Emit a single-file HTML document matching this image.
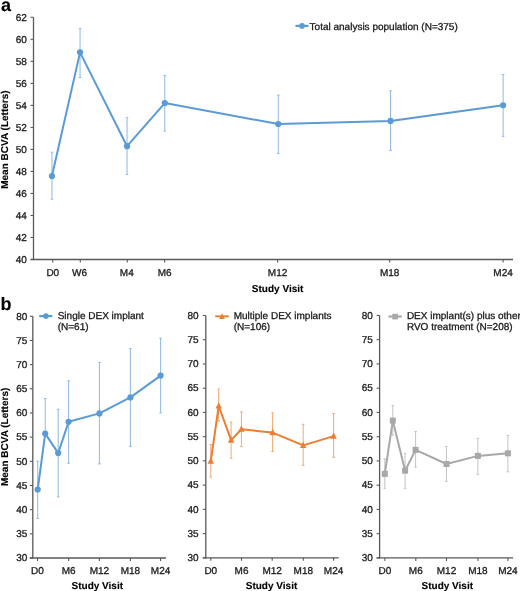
<!DOCTYPE html>
<html><head><meta charset="utf-8"><title>Mean BCVA chart</title>
<style>html,body{margin:0;padding:0;background:#fff;width:520px;height:591px;overflow:hidden;}svg{display:block;will-change:transform;text-rendering:geometricPrecision;font-family:"Liberation Sans",sans-serif;}text{stroke:#1a1a1a;stroke-width:0.3px;}text[font-weight=bold]{stroke:#000;fill:#000;stroke-width:0.12px;}</style>
</head><body>
<svg width="520" height="591" viewBox="0 0 520 591" font-family="Liberation Sans, sans-serif">
<rect width="520" height="591" fill="#ffffff"/>
<text x="1" y="10.6" font-size="18" text-anchor="start" font-weight="bold" fill="#000" >a</text>
<text x="0.5" y="309.5" font-size="18" text-anchor="start" font-weight="bold" fill="#000" >b</text>
<line x1="33.5" y1="17.3" x2="33.5" y2="260.1" stroke="#595959" stroke-width="1.3" />
<line x1="30.5" y1="259.5" x2="513" y2="259.5" stroke="#595959" stroke-width="1.3" />
<line x1="30.5" y1="259.5" x2="33.5" y2="259.5" stroke="#595959" stroke-width="1.1" />
<text x="26.8" y="262.7" font-size="10" text-anchor="end" font-weight="normal" fill="#1a1a1a" >40</text>
<line x1="30.5" y1="237.48" x2="33.5" y2="237.48" stroke="#595959" stroke-width="1.1" />
<text x="26.8" y="240.68" font-size="10" text-anchor="end" font-weight="normal" fill="#1a1a1a" >42</text>
<line x1="30.5" y1="215.46" x2="33.5" y2="215.46" stroke="#595959" stroke-width="1.1" />
<text x="26.8" y="218.66" font-size="10" text-anchor="end" font-weight="normal" fill="#1a1a1a" >44</text>
<line x1="30.5" y1="193.45" x2="33.5" y2="193.45" stroke="#595959" stroke-width="1.1" />
<text x="26.8" y="196.65" font-size="10" text-anchor="end" font-weight="normal" fill="#1a1a1a" >46</text>
<line x1="30.5" y1="171.43" x2="33.5" y2="171.43" stroke="#595959" stroke-width="1.1" />
<text x="26.8" y="174.63" font-size="10" text-anchor="end" font-weight="normal" fill="#1a1a1a" >48</text>
<line x1="30.5" y1="149.41" x2="33.5" y2="149.41" stroke="#595959" stroke-width="1.1" />
<text x="26.8" y="152.61" font-size="10" text-anchor="end" font-weight="normal" fill="#1a1a1a" >50</text>
<line x1="30.5" y1="127.39" x2="33.5" y2="127.39" stroke="#595959" stroke-width="1.1" />
<text x="26.8" y="130.59" font-size="10" text-anchor="end" font-weight="normal" fill="#1a1a1a" >52</text>
<line x1="30.5" y1="105.37" x2="33.5" y2="105.37" stroke="#595959" stroke-width="1.1" />
<text x="26.8" y="108.57" font-size="10" text-anchor="end" font-weight="normal" fill="#1a1a1a" >54</text>
<line x1="30.5" y1="83.35" x2="33.5" y2="83.35" stroke="#595959" stroke-width="1.1" />
<text x="26.8" y="86.55" font-size="10" text-anchor="end" font-weight="normal" fill="#1a1a1a" >56</text>
<line x1="30.5" y1="61.34" x2="33.5" y2="61.34" stroke="#595959" stroke-width="1.1" />
<text x="26.8" y="64.54" font-size="10" text-anchor="end" font-weight="normal" fill="#1a1a1a" >58</text>
<line x1="30.5" y1="39.32" x2="33.5" y2="39.32" stroke="#595959" stroke-width="1.1" />
<text x="26.8" y="42.52" font-size="10" text-anchor="end" font-weight="normal" fill="#1a1a1a" >60</text>
<line x1="30.5" y1="17.3" x2="33.5" y2="17.3" stroke="#595959" stroke-width="1.1" />
<text x="26.8" y="20.5" font-size="10" text-anchor="end" font-weight="normal" fill="#1a1a1a" >62</text>
<line x1="52.8" y1="259.5" x2="52.8" y2="262.5" stroke="#595959" stroke-width="1.1" />
<text x="52.8" y="276.3" font-size="10" text-anchor="middle" font-weight="normal" fill="#1a1a1a" >D0</text>
<line x1="80.3" y1="259.5" x2="80.3" y2="262.5" stroke="#595959" stroke-width="1.1" />
<text x="79.6" y="276.3" font-size="10" text-anchor="middle" font-weight="normal" fill="#1a1a1a" >W6</text>
<line x1="127.2" y1="259.5" x2="127.2" y2="262.5" stroke="#595959" stroke-width="1.1" />
<text x="126.8" y="276.3" font-size="10" text-anchor="middle" font-weight="normal" fill="#1a1a1a" >M4</text>
<line x1="164.6" y1="259.5" x2="164.6" y2="262.5" stroke="#595959" stroke-width="1.1" />
<text x="164.6" y="276.3" font-size="10" text-anchor="middle" font-weight="normal" fill="#1a1a1a" >M6</text>
<line x1="277.6" y1="259.5" x2="277.6" y2="262.5" stroke="#595959" stroke-width="1.1" />
<text x="277.6" y="276.3" font-size="10" text-anchor="middle" font-weight="normal" fill="#1a1a1a" >M12</text>
<line x1="389.7" y1="259.5" x2="389.7" y2="262.5" stroke="#595959" stroke-width="1.1" />
<text x="389.7" y="276.3" font-size="10" text-anchor="middle" font-weight="normal" fill="#1a1a1a" >M18</text>
<line x1="503.1" y1="259.5" x2="503.1" y2="262.5" stroke="#595959" stroke-width="1.1" />
<text x="503.1" y="276.3" font-size="10" text-anchor="middle" font-weight="normal" fill="#1a1a1a" >M24</text>
<text x="277.6" y="292.4" font-size="10" text-anchor="middle" font-weight="bold" fill="#1a1a1a" >Study Visit</text>
<text x="0" y="0" font-size="10" text-anchor="middle" font-weight="bold" fill="#1a1a1a" transform="translate(8.2,139.6) rotate(-90)">Mean BCVA (Letters)</text>
<line x1="51.95" y1="152.2" x2="51.95" y2="176.05" stroke="#8fb9e3" stroke-width="1.0" />
<line x1="50.65" y1="152.2" x2="53.25" y2="152.2" stroke="#8fb9e3" stroke-width="1.0" />
<line x1="51.95" y1="176.05" x2="51.95" y2="199.2" stroke="#8fb9e3" stroke-width="1.0" />
<line x1="50.65" y1="199.2" x2="53.25" y2="199.2" stroke="#8fb9e3" stroke-width="1.0" />
<line x1="80.05" y1="28.3" x2="80.05" y2="52.35" stroke="#8fb9e3" stroke-width="1.0" />
<line x1="78.75" y1="28.3" x2="81.35" y2="28.3" stroke="#8fb9e3" stroke-width="1.0" />
<line x1="80.05" y1="52.35" x2="80.05" y2="77.5" stroke="#8fb9e3" stroke-width="1.0" />
<line x1="78.75" y1="77.5" x2="81.35" y2="77.5" stroke="#8fb9e3" stroke-width="1.0" />
<line x1="127.05" y1="117.7" x2="127.05" y2="146.2" stroke="#8fb9e3" stroke-width="1.0" />
<line x1="125.75" y1="117.7" x2="128.35" y2="117.7" stroke="#8fb9e3" stroke-width="1.0" />
<line x1="127.05" y1="146.2" x2="127.05" y2="174.5" stroke="#8fb9e3" stroke-width="1.0" />
<line x1="125.75" y1="174.5" x2="128.35" y2="174.5" stroke="#8fb9e3" stroke-width="1.0" />
<line x1="164.8" y1="75.4" x2="164.8" y2="103.1" stroke="#8fb9e3" stroke-width="1.0" />
<line x1="163.5" y1="75.4" x2="166.1" y2="75.4" stroke="#8fb9e3" stroke-width="1.0" />
<line x1="164.8" y1="103.1" x2="164.8" y2="131.1" stroke="#8fb9e3" stroke-width="1.0" />
<line x1="163.5" y1="131.1" x2="166.1" y2="131.1" stroke="#8fb9e3" stroke-width="1.0" />
<line x1="278.3" y1="95.2" x2="278.3" y2="124" stroke="#8fb9e3" stroke-width="1.0" />
<line x1="277" y1="95.2" x2="279.6" y2="95.2" stroke="#8fb9e3" stroke-width="1.0" />
<line x1="278.3" y1="124" x2="278.3" y2="153.4" stroke="#8fb9e3" stroke-width="1.0" />
<line x1="277" y1="153.4" x2="279.6" y2="153.4" stroke="#8fb9e3" stroke-width="1.0" />
<line x1="390.55" y1="90.8" x2="390.55" y2="120.9" stroke="#8fb9e3" stroke-width="1.0" />
<line x1="389.25" y1="90.8" x2="391.85" y2="90.8" stroke="#8fb9e3" stroke-width="1.0" />
<line x1="390.55" y1="120.9" x2="390.55" y2="150.5" stroke="#8fb9e3" stroke-width="1.0" />
<line x1="389.25" y1="150.5" x2="391.85" y2="150.5" stroke="#8fb9e3" stroke-width="1.0" />
<line x1="503.1" y1="74.5" x2="503.1" y2="105.25" stroke="#8fb9e3" stroke-width="1.0" />
<line x1="501.8" y1="74.5" x2="504.4" y2="74.5" stroke="#8fb9e3" stroke-width="1.0" />
<line x1="503.1" y1="105.25" x2="503.1" y2="136.3" stroke="#8fb9e3" stroke-width="1.0" />
<line x1="501.8" y1="136.3" x2="504.4" y2="136.3" stroke="#8fb9e3" stroke-width="1.0" />
<path d="M51.95,176.05 L80.05,52.35 L127.05,146.2 L164.8,103.1 L278.3,124 L390.55,120.9 L503.1,105.25" fill="none" stroke="#5b9bd5" stroke-width="2.0" stroke-linejoin="round"/>
<circle cx="51.95" cy="176.05" r="3.1" fill="#5b9bd5"/>
<circle cx="80.05" cy="52.35" r="3.1" fill="#5b9bd5"/>
<circle cx="127.05" cy="146.2" r="3.1" fill="#5b9bd5"/>
<circle cx="164.8" cy="103.1" r="3.1" fill="#5b9bd5"/>
<circle cx="278.3" cy="124" r="3.1" fill="#5b9bd5"/>
<circle cx="390.55" cy="120.9" r="3.1" fill="#5b9bd5"/>
<circle cx="503.1" cy="105.25" r="3.1" fill="#5b9bd5"/>
<line x1="295.5" y1="25.9" x2="308.5" y2="25.9" stroke="#5b9bd5" stroke-width="2.2" />
<circle cx="302" cy="25.9" r="2.8" fill="#5b9bd5"/>
<text x="309.6" y="29.6" font-size="10" text-anchor="start" font-weight="normal" fill="#1a1a1a" >Total analysis population (N=375)</text>
<line x1="32.8" y1="316.3" x2="32.8" y2="558.6" stroke="#595959" stroke-width="1.3" />
<line x1="29.8" y1="558" x2="166" y2="558" stroke="#595959" stroke-width="1.3" />
<line x1="29.8" y1="558" x2="32.8" y2="558" stroke="#595959" stroke-width="1.1" />
<text x="27.4" y="561.2" font-size="10" text-anchor="end" font-weight="normal" fill="#1a1a1a" >30</text>
<line x1="29.8" y1="533.83" x2="32.8" y2="533.83" stroke="#595959" stroke-width="1.1" />
<text x="27.4" y="537.03" font-size="10" text-anchor="end" font-weight="normal" fill="#1a1a1a" >35</text>
<line x1="29.8" y1="509.66" x2="32.8" y2="509.66" stroke="#595959" stroke-width="1.1" />
<text x="27.4" y="512.86" font-size="10" text-anchor="end" font-weight="normal" fill="#1a1a1a" >40</text>
<line x1="29.8" y1="485.49" x2="32.8" y2="485.49" stroke="#595959" stroke-width="1.1" />
<text x="27.4" y="488.69" font-size="10" text-anchor="end" font-weight="normal" fill="#1a1a1a" >45</text>
<line x1="29.8" y1="461.32" x2="32.8" y2="461.32" stroke="#595959" stroke-width="1.1" />
<text x="27.4" y="464.52" font-size="10" text-anchor="end" font-weight="normal" fill="#1a1a1a" >50</text>
<line x1="29.8" y1="437.15" x2="32.8" y2="437.15" stroke="#595959" stroke-width="1.1" />
<text x="27.4" y="440.35" font-size="10" text-anchor="end" font-weight="normal" fill="#1a1a1a" >55</text>
<line x1="29.8" y1="412.98" x2="32.8" y2="412.98" stroke="#595959" stroke-width="1.1" />
<text x="27.4" y="416.18" font-size="10" text-anchor="end" font-weight="normal" fill="#1a1a1a" >60</text>
<line x1="29.8" y1="388.81" x2="32.8" y2="388.81" stroke="#595959" stroke-width="1.1" />
<text x="27.4" y="392.01" font-size="10" text-anchor="end" font-weight="normal" fill="#1a1a1a" >65</text>
<line x1="29.8" y1="364.64" x2="32.8" y2="364.64" stroke="#595959" stroke-width="1.1" />
<text x="27.4" y="367.84" font-size="10" text-anchor="end" font-weight="normal" fill="#1a1a1a" >70</text>
<line x1="29.8" y1="340.47" x2="32.8" y2="340.47" stroke="#595959" stroke-width="1.1" />
<text x="27.4" y="343.67" font-size="10" text-anchor="end" font-weight="normal" fill="#1a1a1a" >75</text>
<line x1="29.8" y1="316.3" x2="32.8" y2="316.3" stroke="#595959" stroke-width="1.1" />
<text x="27.4" y="319.5" font-size="10" text-anchor="end" font-weight="normal" fill="#1a1a1a" >80</text>
<line x1="37.5" y1="558" x2="37.5" y2="561" stroke="#595959" stroke-width="1.1" />
<text x="37.5" y="573.9" font-size="10" text-anchor="middle" font-weight="normal" fill="#1a1a1a" >D0</text>
<line x1="68.7" y1="558" x2="68.7" y2="561" stroke="#595959" stroke-width="1.1" />
<text x="68.7" y="573.9" font-size="10" text-anchor="middle" font-weight="normal" fill="#1a1a1a" >M6</text>
<line x1="99.4" y1="558" x2="99.4" y2="561" stroke="#595959" stroke-width="1.1" />
<text x="99.4" y="573.9" font-size="10" text-anchor="middle" font-weight="normal" fill="#1a1a1a" >M12</text>
<line x1="130.4" y1="558" x2="130.4" y2="561" stroke="#595959" stroke-width="1.1" />
<text x="130.4" y="573.9" font-size="10" text-anchor="middle" font-weight="normal" fill="#1a1a1a" >M18</text>
<line x1="160.6" y1="558" x2="160.6" y2="561" stroke="#595959" stroke-width="1.1" />
<text x="160.6" y="573.9" font-size="10" text-anchor="middle" font-weight="normal" fill="#1a1a1a" >M24</text>
<text x="97.3" y="588.6" font-size="10" text-anchor="middle" font-weight="bold" fill="#1a1a1a" >Study Visit</text>
<line x1="205.8" y1="315.5" x2="205.8" y2="558.4" stroke="#595959" stroke-width="1.3" />
<line x1="202.8" y1="557.8" x2="338.7" y2="557.8" stroke="#595959" stroke-width="1.3" />
<line x1="202.8" y1="557.8" x2="205.8" y2="557.8" stroke="#595959" stroke-width="1.1" />
<text x="198.5" y="561" font-size="10" text-anchor="end" font-weight="normal" fill="#1a1a1a" >30</text>
<line x1="202.8" y1="533.57" x2="205.8" y2="533.57" stroke="#595959" stroke-width="1.1" />
<text x="198.5" y="536.77" font-size="10" text-anchor="end" font-weight="normal" fill="#1a1a1a" >35</text>
<line x1="202.8" y1="509.34" x2="205.8" y2="509.34" stroke="#595959" stroke-width="1.1" />
<text x="198.5" y="512.54" font-size="10" text-anchor="end" font-weight="normal" fill="#1a1a1a" >40</text>
<line x1="202.8" y1="485.11" x2="205.8" y2="485.11" stroke="#595959" stroke-width="1.1" />
<text x="198.5" y="488.31" font-size="10" text-anchor="end" font-weight="normal" fill="#1a1a1a" >45</text>
<line x1="202.8" y1="460.88" x2="205.8" y2="460.88" stroke="#595959" stroke-width="1.1" />
<text x="198.5" y="464.08" font-size="10" text-anchor="end" font-weight="normal" fill="#1a1a1a" >50</text>
<line x1="202.8" y1="436.65" x2="205.8" y2="436.65" stroke="#595959" stroke-width="1.1" />
<text x="198.5" y="439.85" font-size="10" text-anchor="end" font-weight="normal" fill="#1a1a1a" >55</text>
<line x1="202.8" y1="412.42" x2="205.8" y2="412.42" stroke="#595959" stroke-width="1.1" />
<text x="198.5" y="415.62" font-size="10" text-anchor="end" font-weight="normal" fill="#1a1a1a" >60</text>
<line x1="202.8" y1="388.19" x2="205.8" y2="388.19" stroke="#595959" stroke-width="1.1" />
<text x="198.5" y="391.39" font-size="10" text-anchor="end" font-weight="normal" fill="#1a1a1a" >65</text>
<line x1="202.8" y1="363.96" x2="205.8" y2="363.96" stroke="#595959" stroke-width="1.1" />
<text x="198.5" y="367.16" font-size="10" text-anchor="end" font-weight="normal" fill="#1a1a1a" >70</text>
<line x1="202.8" y1="339.73" x2="205.8" y2="339.73" stroke="#595959" stroke-width="1.1" />
<text x="198.5" y="342.93" font-size="10" text-anchor="end" font-weight="normal" fill="#1a1a1a" >75</text>
<line x1="202.8" y1="315.5" x2="205.8" y2="315.5" stroke="#595959" stroke-width="1.1" />
<text x="198.5" y="318.7" font-size="10" text-anchor="end" font-weight="normal" fill="#1a1a1a" >80</text>
<line x1="210.8" y1="557.8" x2="210.8" y2="560.8" stroke="#595959" stroke-width="1.1" />
<text x="210.8" y="573.9" font-size="10" text-anchor="middle" font-weight="normal" fill="#1a1a1a" >D0</text>
<line x1="241.5" y1="557.8" x2="241.5" y2="560.8" stroke="#595959" stroke-width="1.1" />
<text x="241.5" y="573.9" font-size="10" text-anchor="middle" font-weight="normal" fill="#1a1a1a" >M6</text>
<line x1="272.2" y1="557.8" x2="272.2" y2="560.8" stroke="#595959" stroke-width="1.1" />
<text x="272.2" y="573.9" font-size="10" text-anchor="middle" font-weight="normal" fill="#1a1a1a" >M12</text>
<line x1="303.3" y1="557.8" x2="303.3" y2="560.8" stroke="#595959" stroke-width="1.1" />
<text x="303.3" y="573.9" font-size="10" text-anchor="middle" font-weight="normal" fill="#1a1a1a" >M18</text>
<line x1="333.6" y1="557.8" x2="333.6" y2="560.8" stroke="#595959" stroke-width="1.1" />
<text x="333.6" y="573.9" font-size="10" text-anchor="middle" font-weight="normal" fill="#1a1a1a" >M24</text>
<text x="271.5" y="588.6" font-size="10" text-anchor="middle" font-weight="bold" fill="#1a1a1a" >Study Visit</text>
<line x1="379.6" y1="315.4" x2="379.6" y2="558.55" stroke="#595959" stroke-width="1.3" />
<line x1="376.6" y1="557.95" x2="513.1" y2="557.95" stroke="#595959" stroke-width="1.3" />
<line x1="376.6" y1="557.95" x2="379.6" y2="557.95" stroke="#595959" stroke-width="1.1" />
<text x="372.8" y="561.15" font-size="10" text-anchor="end" font-weight="normal" fill="#1a1a1a" >30</text>
<line x1="376.6" y1="533.7" x2="379.6" y2="533.7" stroke="#595959" stroke-width="1.1" />
<text x="372.8" y="536.9" font-size="10" text-anchor="end" font-weight="normal" fill="#1a1a1a" >35</text>
<line x1="376.6" y1="509.44" x2="379.6" y2="509.44" stroke="#595959" stroke-width="1.1" />
<text x="372.8" y="512.64" font-size="10" text-anchor="end" font-weight="normal" fill="#1a1a1a" >40</text>
<line x1="376.6" y1="485.19" x2="379.6" y2="485.19" stroke="#595959" stroke-width="1.1" />
<text x="372.8" y="488.39" font-size="10" text-anchor="end" font-weight="normal" fill="#1a1a1a" >45</text>
<line x1="376.6" y1="460.93" x2="379.6" y2="460.93" stroke="#595959" stroke-width="1.1" />
<text x="372.8" y="464.13" font-size="10" text-anchor="end" font-weight="normal" fill="#1a1a1a" >50</text>
<line x1="376.6" y1="436.68" x2="379.6" y2="436.68" stroke="#595959" stroke-width="1.1" />
<text x="372.8" y="439.88" font-size="10" text-anchor="end" font-weight="normal" fill="#1a1a1a" >55</text>
<line x1="376.6" y1="412.42" x2="379.6" y2="412.42" stroke="#595959" stroke-width="1.1" />
<text x="372.8" y="415.62" font-size="10" text-anchor="end" font-weight="normal" fill="#1a1a1a" >60</text>
<line x1="376.6" y1="388.17" x2="379.6" y2="388.17" stroke="#595959" stroke-width="1.1" />
<text x="372.8" y="391.37" font-size="10" text-anchor="end" font-weight="normal" fill="#1a1a1a" >65</text>
<line x1="376.6" y1="363.91" x2="379.6" y2="363.91" stroke="#595959" stroke-width="1.1" />
<text x="372.8" y="367.11" font-size="10" text-anchor="end" font-weight="normal" fill="#1a1a1a" >70</text>
<line x1="376.6" y1="339.65" x2="379.6" y2="339.65" stroke="#595959" stroke-width="1.1" />
<text x="372.8" y="342.85" font-size="10" text-anchor="end" font-weight="normal" fill="#1a1a1a" >75</text>
<line x1="376.6" y1="315.4" x2="379.6" y2="315.4" stroke="#595959" stroke-width="1.1" />
<text x="372.8" y="318.6" font-size="10" text-anchor="end" font-weight="normal" fill="#1a1a1a" >80</text>
<line x1="384.9" y1="557.95" x2="384.9" y2="560.95" stroke="#595959" stroke-width="1.1" />
<text x="384.9" y="573.9" font-size="10" text-anchor="middle" font-weight="normal" fill="#1a1a1a" >D0</text>
<line x1="415.8" y1="557.95" x2="415.8" y2="560.95" stroke="#595959" stroke-width="1.1" />
<text x="415.8" y="573.9" font-size="10" text-anchor="middle" font-weight="normal" fill="#1a1a1a" >M6</text>
<line x1="446.5" y1="557.95" x2="446.5" y2="560.95" stroke="#595959" stroke-width="1.1" />
<text x="446.5" y="573.9" font-size="10" text-anchor="middle" font-weight="normal" fill="#1a1a1a" >M12</text>
<line x1="477.9" y1="557.95" x2="477.9" y2="560.95" stroke="#595959" stroke-width="1.1" />
<text x="477.9" y="573.9" font-size="10" text-anchor="middle" font-weight="normal" fill="#1a1a1a" >M18</text>
<line x1="507.9" y1="557.95" x2="507.9" y2="560.95" stroke="#595959" stroke-width="1.1" />
<text x="507.9" y="573.9" font-size="10" text-anchor="middle" font-weight="normal" fill="#1a1a1a" >M24</text>
<text x="447.3" y="588.6" font-size="10" text-anchor="middle" font-weight="bold" fill="#1a1a1a" >Study Visit</text>
<text x="0" y="0" font-size="10" text-anchor="middle" font-weight="bold" fill="#1a1a1a" transform="translate(8.2,436.9) rotate(-90)">Mean BCVA (Letters)</text>
<line x1="37.7" y1="461.2" x2="37.7" y2="489.5" stroke="#8fb9e3" stroke-width="1.0" />
<line x1="36.4" y1="461.2" x2="39" y2="461.2" stroke="#8fb9e3" stroke-width="1.0" />
<line x1="37.7" y1="489.5" x2="37.7" y2="518.5" stroke="#8fb9e3" stroke-width="1.0" />
<line x1="36.4" y1="518.5" x2="39" y2="518.5" stroke="#8fb9e3" stroke-width="1.0" />
<line x1="45.2" y1="398.5" x2="45.2" y2="433.6" stroke="#8fb9e3" stroke-width="1.0" />
<line x1="43.9" y1="398.5" x2="46.5" y2="398.5" stroke="#8fb9e3" stroke-width="1.0" />
<line x1="58.2" y1="409.3" x2="58.2" y2="453.1" stroke="#8fb9e3" stroke-width="1.0" />
<line x1="56.9" y1="409.3" x2="59.5" y2="409.3" stroke="#8fb9e3" stroke-width="1.0" />
<line x1="58.2" y1="453.1" x2="58.2" y2="496.9" stroke="#8fb9e3" stroke-width="1.0" />
<line x1="56.9" y1="496.9" x2="59.5" y2="496.9" stroke="#8fb9e3" stroke-width="1.0" />
<line x1="68.6" y1="380.8" x2="68.6" y2="421.8" stroke="#8fb9e3" stroke-width="1.0" />
<line x1="67.3" y1="380.8" x2="69.9" y2="380.8" stroke="#8fb9e3" stroke-width="1.0" />
<line x1="68.6" y1="421.8" x2="68.6" y2="463.2" stroke="#8fb9e3" stroke-width="1.0" />
<line x1="67.3" y1="463.2" x2="69.9" y2="463.2" stroke="#8fb9e3" stroke-width="1.0" />
<line x1="99.4" y1="362.4" x2="99.4" y2="413.4" stroke="#8fb9e3" stroke-width="1.0" />
<line x1="98.1" y1="362.4" x2="100.7" y2="362.4" stroke="#8fb9e3" stroke-width="1.0" />
<line x1="99.4" y1="413.4" x2="99.4" y2="463.9" stroke="#8fb9e3" stroke-width="1.0" />
<line x1="98.1" y1="463.9" x2="100.7" y2="463.9" stroke="#8fb9e3" stroke-width="1.0" />
<line x1="130.4" y1="348.4" x2="130.4" y2="397.4" stroke="#8fb9e3" stroke-width="1.0" />
<line x1="129.1" y1="348.4" x2="131.7" y2="348.4" stroke="#8fb9e3" stroke-width="1.0" />
<line x1="130.4" y1="397.4" x2="130.4" y2="446.4" stroke="#8fb9e3" stroke-width="1.0" />
<line x1="129.1" y1="446.4" x2="131.7" y2="446.4" stroke="#8fb9e3" stroke-width="1.0" />
<line x1="160.6" y1="338.3" x2="160.6" y2="375.6" stroke="#8fb9e3" stroke-width="1.0" />
<line x1="159.3" y1="338.3" x2="161.9" y2="338.3" stroke="#8fb9e3" stroke-width="1.0" />
<line x1="160.6" y1="375.6" x2="160.6" y2="412.9" stroke="#8fb9e3" stroke-width="1.0" />
<line x1="159.3" y1="412.9" x2="161.9" y2="412.9" stroke="#8fb9e3" stroke-width="1.0" />
<path d="M37.7,489.5 L45.2,433.6 L58.2,453.1 L68.6,421.8 L99.4,413.4 L130.4,397.4 L160.6,375.6" fill="none" stroke="#5b9bd5" stroke-width="2.0" stroke-linejoin="round"/>
<circle cx="37.7" cy="489.5" r="3.1" fill="#5b9bd5"/>
<circle cx="45.2" cy="433.6" r="3.1" fill="#5b9bd5"/>
<circle cx="58.2" cy="453.1" r="3.1" fill="#5b9bd5"/>
<circle cx="68.6" cy="421.8" r="3.1" fill="#5b9bd5"/>
<circle cx="99.4" cy="413.4" r="3.1" fill="#5b9bd5"/>
<circle cx="130.4" cy="397.4" r="3.1" fill="#5b9bd5"/>
<circle cx="160.6" cy="375.6" r="3.1" fill="#5b9bd5"/>
<line x1="210.8" y1="444.6" x2="210.8" y2="461.2" stroke="#f3a878" stroke-width="1.0" />
<line x1="209.5" y1="444.6" x2="212.1" y2="444.6" stroke="#f3a878" stroke-width="1.0" />
<line x1="210.8" y1="461.2" x2="210.8" y2="477.1" stroke="#f3a878" stroke-width="1.0" />
<line x1="209.5" y1="477.1" x2="212.1" y2="477.1" stroke="#f3a878" stroke-width="1.0" />
<line x1="218.7" y1="389.1" x2="218.7" y2="406" stroke="#f3a878" stroke-width="1.0" />
<line x1="217.4" y1="389.1" x2="220" y2="389.1" stroke="#f3a878" stroke-width="1.0" />
<line x1="218.7" y1="406" x2="218.7" y2="421.2" stroke="#f3a878" stroke-width="1.0" />
<line x1="217.4" y1="421.2" x2="220" y2="421.2" stroke="#f3a878" stroke-width="1.0" />
<line x1="231.1" y1="422" x2="231.1" y2="440.1" stroke="#f3a878" stroke-width="1.0" />
<line x1="229.8" y1="422" x2="232.4" y2="422" stroke="#f3a878" stroke-width="1.0" />
<line x1="231.1" y1="440.1" x2="231.1" y2="458.2" stroke="#f3a878" stroke-width="1.0" />
<line x1="229.8" y1="458.2" x2="232.4" y2="458.2" stroke="#f3a878" stroke-width="1.0" />
<line x1="241.4" y1="411.9" x2="241.4" y2="429.3" stroke="#f3a878" stroke-width="1.0" />
<line x1="240.1" y1="411.9" x2="242.7" y2="411.9" stroke="#f3a878" stroke-width="1.0" />
<line x1="241.4" y1="429.3" x2="241.4" y2="446.6" stroke="#f3a878" stroke-width="1.0" />
<line x1="240.1" y1="446.6" x2="242.7" y2="446.6" stroke="#f3a878" stroke-width="1.0" />
<line x1="272.6" y1="412.9" x2="272.6" y2="432.6" stroke="#f3a878" stroke-width="1.0" />
<line x1="271.3" y1="412.9" x2="273.9" y2="412.9" stroke="#f3a878" stroke-width="1.0" />
<line x1="272.6" y1="432.6" x2="272.6" y2="451.5" stroke="#f3a878" stroke-width="1.0" />
<line x1="271.3" y1="451.5" x2="273.9" y2="451.5" stroke="#f3a878" stroke-width="1.0" />
<line x1="303.2" y1="424.3" x2="303.2" y2="445.4" stroke="#f3a878" stroke-width="1.0" />
<line x1="301.9" y1="424.3" x2="304.5" y2="424.3" stroke="#f3a878" stroke-width="1.0" />
<line x1="303.2" y1="445.4" x2="303.2" y2="465.3" stroke="#f3a878" stroke-width="1.0" />
<line x1="301.9" y1="465.3" x2="304.5" y2="465.3" stroke="#f3a878" stroke-width="1.0" />
<line x1="333.6" y1="413.5" x2="333.6" y2="436.1" stroke="#f3a878" stroke-width="1.0" />
<line x1="332.3" y1="413.5" x2="334.9" y2="413.5" stroke="#f3a878" stroke-width="1.0" />
<line x1="333.6" y1="436.1" x2="333.6" y2="457.4" stroke="#f3a878" stroke-width="1.0" />
<line x1="332.3" y1="457.4" x2="334.9" y2="457.4" stroke="#f3a878" stroke-width="1.0" />
<path d="M210.8,461.2 L218.7,406 L231.1,440.1 L241.4,429.3 L272.6,432.6 L303.2,445.4 L333.6,436.1" fill="none" stroke="#ed7d31" stroke-width="2.0" stroke-linejoin="round"/>
<path d="M210.8,457.36 L214,463.76 L207.6,463.76 Z" fill="#ed7d31"/>
<path d="M218.7,402.16 L221.9,408.56 L215.5,408.56 Z" fill="#ed7d31"/>
<path d="M231.1,436.26 L234.3,442.66 L227.9,442.66 Z" fill="#ed7d31"/>
<path d="M241.4,425.46 L244.6,431.86 L238.2,431.86 Z" fill="#ed7d31"/>
<path d="M272.6,428.76 L275.8,435.16 L269.4,435.16 Z" fill="#ed7d31"/>
<path d="M303.2,441.56 L306.4,447.96 L300,447.96 Z" fill="#ed7d31"/>
<path d="M333.6,432.26 L336.8,438.66 L330.4,438.66 Z" fill="#ed7d31"/>
<line x1="384.8" y1="458.9" x2="384.8" y2="473.9" stroke="#c4c4c4" stroke-width="1.0" />
<line x1="383.5" y1="458.9" x2="386.1" y2="458.9" stroke="#c4c4c4" stroke-width="1.0" />
<line x1="384.8" y1="473.9" x2="384.8" y2="488.3" stroke="#c4c4c4" stroke-width="1.0" />
<line x1="383.5" y1="488.3" x2="386.1" y2="488.3" stroke="#c4c4c4" stroke-width="1.0" />
<line x1="392.8" y1="405.6" x2="392.8" y2="420.6" stroke="#c4c4c4" stroke-width="1.0" />
<line x1="391.5" y1="405.6" x2="394.1" y2="405.6" stroke="#c4c4c4" stroke-width="1.0" />
<line x1="392.8" y1="420.6" x2="392.8" y2="435.2" stroke="#c4c4c4" stroke-width="1.0" />
<line x1="391.5" y1="435.2" x2="394.1" y2="435.2" stroke="#c4c4c4" stroke-width="1.0" />
<line x1="405.1" y1="453.4" x2="405.1" y2="470.7" stroke="#c4c4c4" stroke-width="1.0" />
<line x1="403.8" y1="453.4" x2="406.4" y2="453.4" stroke="#c4c4c4" stroke-width="1.0" />
<line x1="405.1" y1="470.7" x2="405.1" y2="488.3" stroke="#c4c4c4" stroke-width="1.0" />
<line x1="403.8" y1="488.3" x2="406.4" y2="488.3" stroke="#c4c4c4" stroke-width="1.0" />
<line x1="415.6" y1="431.5" x2="415.6" y2="449.9" stroke="#c4c4c4" stroke-width="1.0" />
<line x1="414.3" y1="431.5" x2="416.9" y2="431.5" stroke="#c4c4c4" stroke-width="1.0" />
<line x1="415.6" y1="449.9" x2="415.6" y2="467.3" stroke="#c4c4c4" stroke-width="1.0" />
<line x1="414.3" y1="467.3" x2="416.9" y2="467.3" stroke="#c4c4c4" stroke-width="1.0" />
<line x1="446.5" y1="446.5" x2="446.5" y2="464" stroke="#c4c4c4" stroke-width="1.0" />
<line x1="445.2" y1="446.5" x2="447.8" y2="446.5" stroke="#c4c4c4" stroke-width="1.0" />
<line x1="446.5" y1="464" x2="446.5" y2="481.4" stroke="#c4c4c4" stroke-width="1.0" />
<line x1="445.2" y1="481.4" x2="447.8" y2="481.4" stroke="#c4c4c4" stroke-width="1.0" />
<line x1="477.9" y1="438.4" x2="477.9" y2="455.9" stroke="#c4c4c4" stroke-width="1.0" />
<line x1="476.6" y1="438.4" x2="479.2" y2="438.4" stroke="#c4c4c4" stroke-width="1.0" />
<line x1="477.9" y1="455.9" x2="477.9" y2="474.4" stroke="#c4c4c4" stroke-width="1.0" />
<line x1="476.6" y1="474.4" x2="479.2" y2="474.4" stroke="#c4c4c4" stroke-width="1.0" />
<line x1="507.9" y1="435.5" x2="507.9" y2="453.3" stroke="#c4c4c4" stroke-width="1.0" />
<line x1="506.6" y1="435.5" x2="509.2" y2="435.5" stroke="#c4c4c4" stroke-width="1.0" />
<line x1="507.9" y1="453.3" x2="507.9" y2="471.8" stroke="#c4c4c4" stroke-width="1.0" />
<line x1="506.6" y1="471.8" x2="509.2" y2="471.8" stroke="#c4c4c4" stroke-width="1.0" />
<path d="M384.8,473.9 L392.8,420.6 L405.1,470.7 L415.6,449.9 L446.5,464 L477.9,455.9 L507.9,453.3" fill="none" stroke="#a8a8a8" stroke-width="2.0" stroke-linejoin="round"/>
<rect x="381.8" y="470.9" width="6" height="6" fill="#a8a8a8"/>
<rect x="389.8" y="417.6" width="6" height="6" fill="#a8a8a8"/>
<rect x="402.1" y="467.7" width="6" height="6" fill="#a8a8a8"/>
<rect x="412.6" y="446.9" width="6" height="6" fill="#a8a8a8"/>
<rect x="443.5" y="461" width="6" height="6" fill="#a8a8a8"/>
<rect x="474.9" y="452.9" width="6" height="6" fill="#a8a8a8"/>
<rect x="504.9" y="450.3" width="6" height="6" fill="#a8a8a8"/>
<line x1="39.2" y1="316.1" x2="52.3" y2="316.1" stroke="#5b9bd5" stroke-width="2.2" />
<circle cx="45.9" cy="316.1" r="2.8" fill="#5b9bd5"/>
<text x="57.7" y="319.4" font-size="10" text-anchor="start" font-weight="normal" fill="#1a1a1a" >Single DEX implant</text>
<text x="57.7" y="330.3" font-size="10" text-anchor="start" font-weight="normal" fill="#1a1a1a" >(N=61)</text>
<line x1="215.2" y1="316.3" x2="228.8" y2="316.3" stroke="#ed7d31" stroke-width="1.9" />
<path d="M222,313.22 L224.9,319.02 L219.1,319.02 Z" fill="#ed7d31"/>
<text x="233.7" y="319.4" font-size="10" text-anchor="start" font-weight="normal" fill="#1a1a1a" >Multiple DEX implants</text>
<text x="233.7" y="330.3" font-size="10" text-anchor="start" font-weight="normal" fill="#1a1a1a" >(N=106)</text>
<line x1="388.5" y1="316.5" x2="401.7" y2="316.5" stroke="#a8a8a8" stroke-width="2.2" />
<rect x="392.3" y="313.8" width="5.6" height="5.6" fill="#a8a8a8"/>
<text x="406.9" y="319.4" font-size="10" text-anchor="start" font-weight="normal" fill="#1a1a1a" >DEX implant(s) plus other</text>
<text x="406.9" y="330.3" font-size="10" text-anchor="start" font-weight="normal" fill="#1a1a1a" >RVO treatment (N=208)</text>
</svg>
</body></html>
